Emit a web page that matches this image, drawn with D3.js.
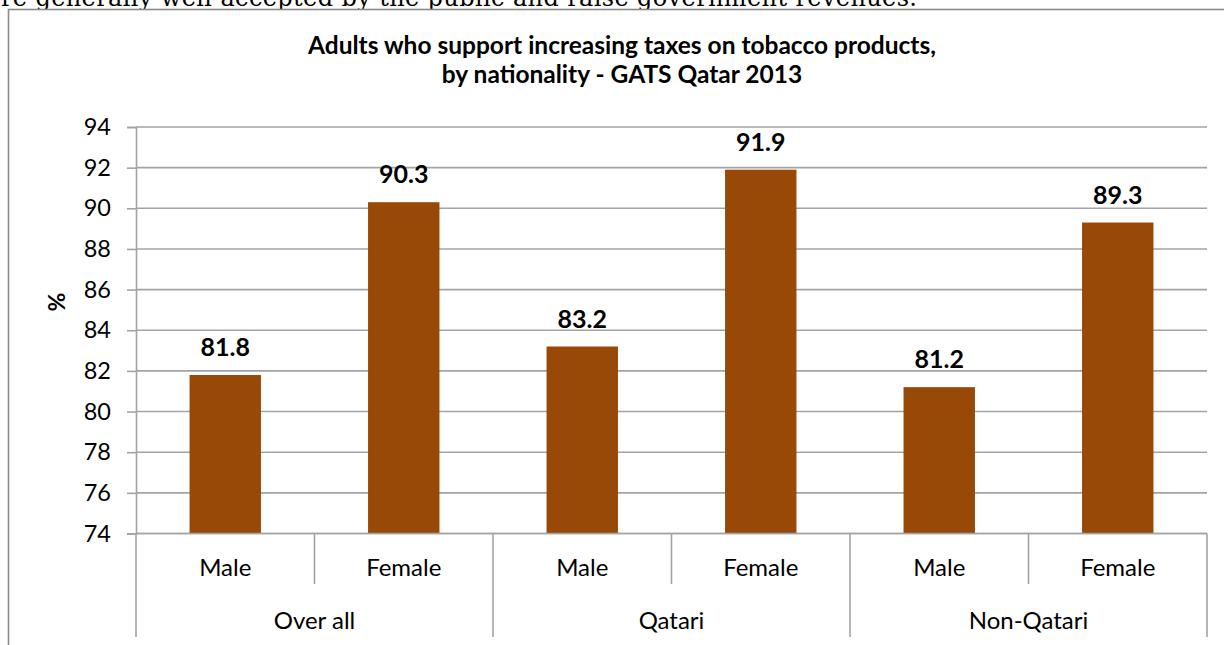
<!DOCTYPE html>
<html>
<head>
<meta charset="utf-8">
<script src="https://cdn.jsdelivr.net/npm/d3@7/dist/d3.min.js"></script>
<style>
  html, body { margin: 0; padding: 0; background: #fff; }
  svg { display: block; }
</style>
</head>
<body>
<svg id="chart" width="1224" height="645"></svg>
<script>
// Survey results: share of adults supporting higher tobacco taxes
const groups = ["Over all", "Qatari", "Non-Qatari"];
const genders = ["Male", "Female"];
const values = [81.8, 90.3, 83.2, 91.9, 81.2, 89.3];
const yTicks = [74, 76, 78, 80, 82, 84, 86, 88, 90, 92, 94];
const titleLines = [
  "Adults who support increasing taxes on tobacco products,",
  "by nationality - GATS Qatar 2013"
];
const bodyText = "re generally well accepted by the public and raise government revenues.";

const svg = d3.select("#chart");
const sansFont = "Lato, 'Open Sans', sans-serif";
const gridColor = "#a3a3a3";

// Flattened rows: one per bar
const rows = values.map((v, i) => ({
  key: i,
  group: groups[Math.floor(i / genders.length)],
  gender: genders[i % genders.length],
  value: v
}));

const plot = { left: 136, right: 1207, top: 127, bottom: 533.5 };

const x = d3.scaleBand()
  .domain(rows.map(d => d.key))
  .range([plot.left, plot.right])
  .paddingInner(0.6)
  .paddingOuter(0.3);

const y = d3.scaleLinear()
  .domain([74, 94])
  .range([plot.bottom, plot.top]);

// Running document text above the chart frame
svg.append("text")
  .attr("x", 1)
  .attr("y", 6)
  .attr("textLength", 916)
  .attr("lengthAdjust", "spacing")
  .attr("font-family", "'DejaVu Serif', 'Liberation Serif', serif")
  .attr("font-size", 24)
  .attr("fill", "#000")
  .text(bodyText);

// Chart frame
svg.append("rect")
  .attr("x", 8.5)
  .attr("y", 9.5)
  .attr("width", 1240)
  .attr("height", 700)
  .attr("fill", "#fff")
  .attr("stroke", "#8a8a8a")
  .attr("stroke-width", 1.6);

// Title
svg.append("text")
  .attr("text-anchor", "middle")
  .attr("font-family", sansFont)
  .attr("font-weight", "bold")
  .attr("font-size", 24.5)
  .attr("fill", "#000")
  .selectAll("tspan")
  .data(titleLines)
  .join("tspan")
  .attr("x", 622)
  .attr("y", (d, i) => 54 + i * 29)
  .text(d => d);

// Horizontal gridlines
svg.append("g")
  .selectAll("line")
  .data(yTicks)
  .join("line")
  .attr("x1", plot.left)
  .attr("x2", plot.right)
  .attr("y1", d => y(d))
  .attr("y2", d => y(d))
  .attr("stroke", gridColor)
  .attr("stroke-width", 1.6);

// Y axis
const yAxis = svg.append("g")
  .attr("transform", `translate(${plot.left},0)`)
  .call(d3.axisLeft(y).tickValues(yTicks).tickSize(9).tickPadding(16).tickFormat(d3.format("d")));
yAxis.select(".domain").attr("stroke", gridColor).attr("stroke-width", 1.6);
yAxis.selectAll(".tick line").attr("stroke", gridColor).attr("stroke-width", 1.6);
yAxis.selectAll(".tick text")
  .attr("font-family", sansFont)
  .attr("font-size", 23.5)
  .attr("fill", "#000");

// Y axis title
svg.append("text")
  .attr("transform", "translate(65,302) rotate(-90)")
  .attr("text-anchor", "middle")
  .attr("font-family", sansFont)
  .attr("font-weight", "bold")
  .attr("font-size", 23)
  .attr("fill", "#000")
  .text("%");

// Bars
svg.append("g")
  .selectAll("rect")
  .data(rows)
  .join("rect")
  .attr("x", d => x(d.key))
  .attr("width", x.bandwidth())
  .attr("y", d => y(d.value))
  .attr("height", d => y(74) - y(d.value))
  .attr("fill", "#984807");

// Value labels
svg.append("g")
  .selectAll("text")
  .data(rows)
  .join("text")
  .attr("x", d => x(d.key) + x.bandwidth() / 2)
  .attr("y", d => y(d.value) - 19)
  .attr("text-anchor", "middle")
  .attr("font-family", sansFont)
  .attr("font-weight", "bold")
  .attr("font-size", 25)
  .attr("fill", "#000")
  .text(d => d.value.toFixed(1));

// X axis baseline
svg.append("line")
  .attr("x1", plot.left)
  .attr("x2", plot.right)
  .attr("y1", plot.bottom)
  .attr("y2", plot.bottom)
  .attr("stroke", gridColor)
  .attr("stroke-width", 1.6);

// Category separators: short ones between genders, long ones between groups
const step = x.step();
const boundaries = d3.range(rows.length + 1).map(i => plot.left + i * step);
svg.append("g")
  .selectAll("line")
  .data(boundaries)
  .join("line")
  .attr("x1", d => d)
  .attr("x2", d => d)
  .attr("y1", plot.bottom)
  .attr("y2", (d, i) => i % genders.length === 0 ? 637 : 584)
  .attr("stroke", gridColor)
  .attr("stroke-width", 1.6);

// Gender labels
svg.append("g")
  .selectAll("text")
  .data(rows)
  .join("text")
  .attr("x", d => x(d.key) + x.bandwidth() / 2)
  .attr("y", 576)
  .attr("text-anchor", "middle")
  .attr("font-family", sansFont)
  .attr("font-size", 24)
  .attr("fill", "#000")
  .text(d => d.gender);

// Group labels
svg.append("g")
  .selectAll("text")
  .data(groups)
  .join("text")
  .attr("x", (d, i) => plot.left + (i + 0.5) * step * genders.length)
  .attr("y", 629)
  .attr("text-anchor", "middle")
  .attr("font-family", sansFont)
  .attr("font-size", 24)
  .attr("fill", "#000")
  .text(d => d);
</script>
</body>
</html>
